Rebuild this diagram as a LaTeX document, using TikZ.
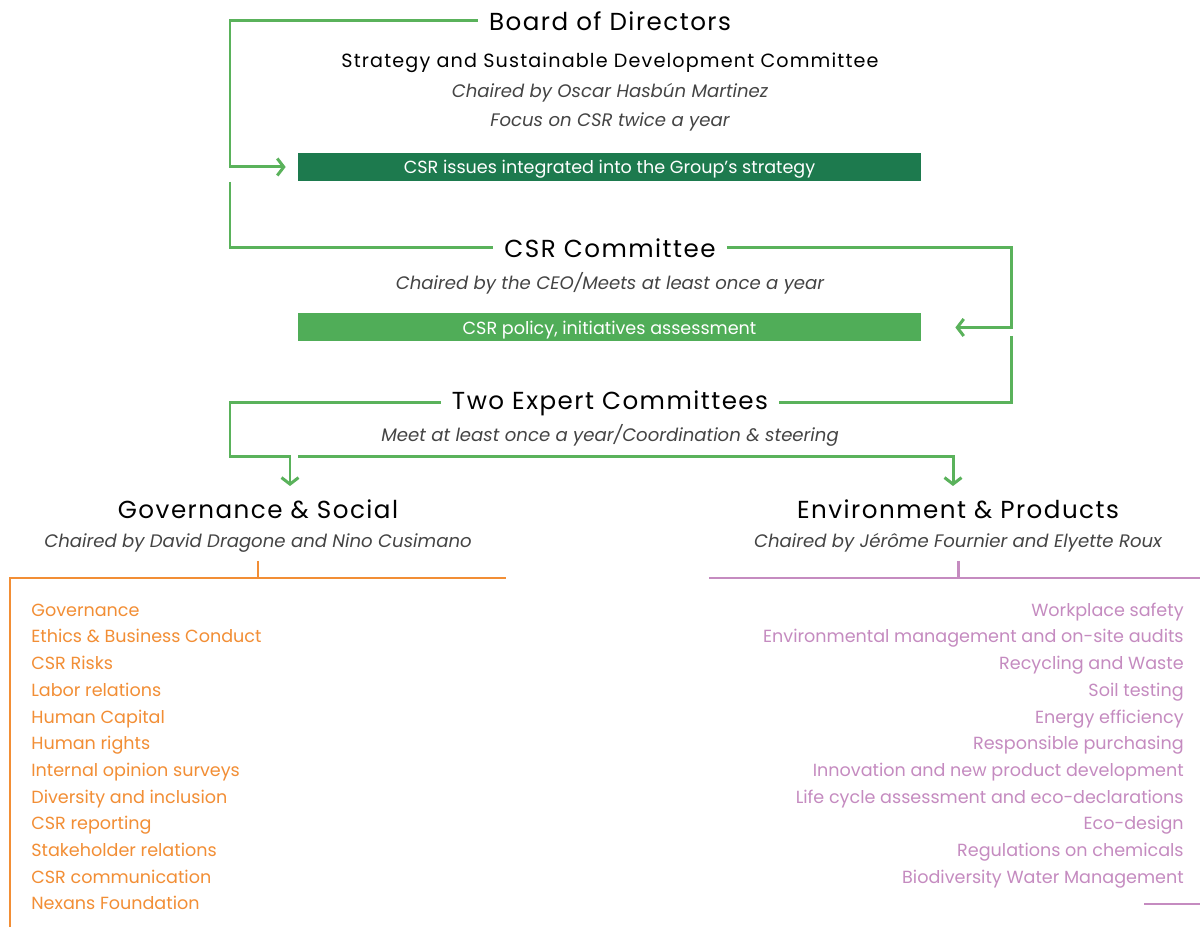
\documentclass[tikz,border=0pt]{standalone}
\usepackage{fontspec}
\setmainfont{Poppins}
\newfontfamily\headfont[LetterSpace=6]{Poppins}
\usepackage{xcolor}
\usetikzlibrary{arrows.meta,calc,positioning}
\definecolor{Forest}{HTML}{1D7A4E}
\definecolor{Leaf}{HTML}{50AD58}
\definecolor{Link}{HTML}{5AB25B}
\definecolor{Amber}{HTML}{F28E35}
\definecolor{Mauve}{HTML}{C58BC0}
\definecolor{Slate}{HTML}{444444}

\begin{document}
\begin{tikzpicture}[
  head/.style={font=\headfont\fontsize{14}{16}\selectfont,inner xsep=2.2mm,inner ysep=1pt},
  sub/.style={font=\headfont\fontsize{10.9}{13}\selectfont,inner sep=1pt},
  note/.style={font=\itshape\fontsize{10.3}{12}\selectfont,text=Slate,inner sep=1pt},
  bar/.style={minimum width=12.46cm,minimum height=5.6mm,inner sep=0pt,text depth=0pt,text=white,font=\fontsize{10}{12}\selectfont},
  link/.style={draw=Link,line width=1.7pt},
  arr/.style={link,-{Straight Barb[length=1.3mm,width=3.4mm]}},
  gitem/.style={text=Amber,anchor=west,inner sep=0pt,text height=1.5ex,text depth=0pt,font=\fontsize{10}{12}\selectfont},
  eitem/.style={text=Mauve,anchor=east,inner sep=0pt,text height=1.5ex,text depth=0pt,font=\fontsize{10}{12}\selectfont},
  orule/.style={draw=Amber,line width=1.7pt},
  prule/.style={draw=Mauve,line width=1.7pt}
]
\useasboundingbox[fill=white] (0,0) rectangle (24,18.54);

% board level
\node[head] (bd) at (12.2,18.12) {Board of Directors};
\node[sub] (sd) at (12.2,17.28) {Strategy and Sustainable Development Committee};
\node[note] (ch1) at (12.2,16.68) {Chaired by Oscar Hasbún Martinez};
\node[note] (fc) at (12.2,16.1) {Focus on CSR twice a year};
\node[bar,fill=Forest] (iss) at (12.19,15.2) {CSR issues integrated into the Group’s strategy};

% CSR committee
\node[head] (csr) at (12.2,13.58) {CSR Committee};
\node[note] (ch2) at (12.2,12.88) {Chaired by the CEO/Meets at least once a year};
\node[bar,fill=Leaf] (pol) at (12.19,11.99) {CSR policy, initiatives assessment};

% expert committees
\node[head] (two) at (12.2,10.48) {Two Expert Committees};
\node[note] (meet) at (12.2,9.84) {Meet at least once a year/Coordination \& steering};
\node[head] (gov) at (5.16,8.36) {Governance \& Social};
\node[note] (govc) at (5.16,7.68) {Chaired by David Dragone and Nino Cusimano};
\node[head] (env) at (19.16,8.36) {Environment \& Products};
\node[note] (envc) at (19.16,7.68) {Chaired by Jérôme Fournier and Elyette Roux};

\coordinate (lk) at (4.6,14.9);
\coordinate (rk) at (20.22,11.82);
\coordinate (bk) at (5.96,9.4);
\coordinate (gh) at (5.8,8.82);
\coordinate (eh) at (19.06,8.82);

\draw[arr,shorten >=2.4mm] (bd.west) -| (4.6,15.2) -- (iss.west);
\draw[link] (lk) |- (csr.west);
\draw[arr,shorten >=6.8mm] (csr.east) -| (20.22,11.99) -- (pol.east);
\draw[link] (rk) |- (two.east);
\draw[arr] (two.west) -| (4.6,9.4) -| (gh);
\draw[arr] (bk) -| (eh);

% topic lists
\draw[orule] (5.16,7.32) -- (5.16,6.98);
\draw[orule] (0.2,0) -- (0.2,6.98) -- (10.12,6.98);
\draw[prule] (19.16,7.32) -- (19.16,6.98);
\draw[prule] (14.18,6.98) -- (24,6.98);
\draw[prule] (22.88,0.46) -- (24,0.46);

\foreach \t [count=\i] in {Governance,Ethics \& Business Conduct,CSR Risks,Labor relations,Human Capital,Human rights,Internal opinion surveys,Diversity and inclusion,CSR reporting,Stakeholder relations,CSR communication,Nexans Foundation}{
  \node[gitem] (g\i) at (0.62,{6.36-0.534*(\i-1)}) {\t};
}
\foreach \t [count=\i] in {Workplace safety,Environmental management and on-site audits,Recycling and Waste,Soil testing,Energy efficiency,Responsible purchasing,Innovation and new product development,Life cycle assessment and eco-declarations,Eco-design,Regulations on chemicals,Biodiversity Water Management}{
  \node[eitem] (e\i) at (23.68,{6.36-0.534*(\i-1)}) {\t};
}
\end{tikzpicture}
\end{document}
